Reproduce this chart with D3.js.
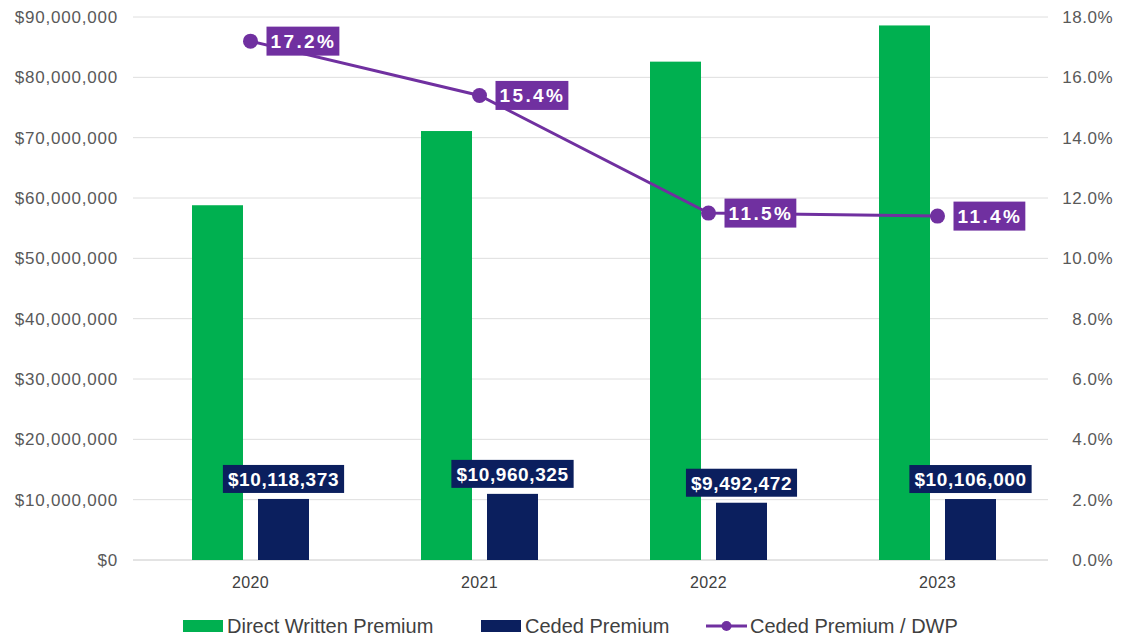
<!DOCTYPE html>
<html>
<head>
<meta charset="utf-8">
<script src="https://cdn.jsdelivr.net/npm/d3@7"></script>
<style>
  html, body { margin: 0; padding: 0; background: #fff; }
  svg { display: block; font-family: "Liberation Sans", Arial, sans-serif; }
</style>
</head>
<body>
<svg id="chart" width="1131" height="640"></svg>
<script>
// Premium figures by year
const years = ["2020", "2021", "2022", "2023"];
const directWritten = [58800000, 71100000, 82600000, 88600000];
const ceded = [10118373, 10960325, 9492472, 10106000];
const cededRatio = [17.2, 15.4, 11.5, 11.4];

const leftTicks = [0, 10000000, 20000000, 30000000, 40000000, 50000000, 60000000, 70000000, 80000000, 90000000];
const rightTicks = [0, 2, 4, 6, 8, 10, 12, 14, 16, 18];

const seriesNames = ["Direct Written Premium", "Ceded Premium", "Ceded Premium / DWP"];
const GREEN = "#00b050", NAVY = "#0b1f5e", PURPLE = "#7030a0";

const svg = d3.select("#chart");
const plot = { left: 136, right: 1052, top: 17, bottom: 560, gridL: 133, gridR: 1048 };

const x = d3.scaleBand().domain(years).range([plot.left, plot.right]).padding(0);
const yL = d3.scaleLinear().domain([0, 90000000]).range([plot.bottom, plot.top]);
const yR = d3.scaleLinear().domain([0, 18]).range([plot.bottom, plot.top]);

const money = d3.format("$,.0f");
const pct = d => d.toFixed(1) + "%";

// gridlines
svg.append("g").selectAll("line").data(leftTicks).join("line")
  .attr("x1", plot.gridL).attr("x2", plot.gridR)
  .attr("y1", d => yL(d)).attr("y2", d => yL(d))
  .attr("stroke", d => d === 0 ? "#c8c8c8" : "#dedede").attr("stroke-width", 1);

// left axis
const gL = svg.append("g").attr("transform", `translate(118,0)`)
  .call(d3.axisLeft(yL).tickValues(leftTicks).tickFormat(money).tickSize(0).tickPadding(0));
gL.select(".domain").remove();
gL.selectAll("text").attr("font-size", 17).attr("fill", "#595959").attr("letter-spacing", 0.8)
  .attr("font-family", "'Liberation Sans', Arial, sans-serif");

// right axis
const gR = svg.append("g").attr("transform", `translate(1113,0)`)
  .call(d3.axisLeft(yR).tickValues(rightTicks).tickFormat(d => d.toFixed(1) + "%").tickSize(0).tickPadding(0));
gR.select(".domain").remove();
gR.selectAll("text").attr("font-size", 17).attr("fill", "#595959").attr("letter-spacing", 0.5)
  .attr("font-family", "'Liberation Sans', Arial, sans-serif");

// category axis
const gX = svg.append("g").attr("transform", `translate(0,${plot.bottom})`)
  .call(d3.axisBottom(x).tickSize(0).tickPadding(17));
gX.select(".domain").remove();
gX.selectAll("text").attr("font-size", 16).attr("fill", "#404040").attr("letter-spacing", 0.4)
  .attr("font-family", "'Liberation Sans', Arial, sans-serif");

// bars
const barW = 51, gap = 15;
const cx = d => x(d) + x.bandwidth() / 2;

svg.append("g").selectAll("rect").data(years).join("rect")
  .attr("x", (d) => cx(d) - gap / 2 - barW)
  .attr("width", barW)
  .attr("y", (d, i) => yL(directWritten[i]))
  .attr("height", (d, i) => yL(0) - yL(directWritten[i]))
  .attr("fill", GREEN);

svg.append("g").selectAll("rect").data(years).join("rect")
  .attr("x", (d) => cx(d) + gap / 2)
  .attr("width", barW)
  .attr("y", (d, i) => yL(ceded[i]))
  .attr("height", (d, i) => yL(0) - yL(ceded[i]))
  .attr("fill", NAVY);

// ceded premium labels
const cededLab = svg.append("g").selectAll("g").data(years).join("g")
  .attr("transform", (d, i) => `translate(${cx(d) + gap / 2 + barW / 2},${yL(ceded[i]) - 20})`);
cededLab.append("rect").attr("fill", NAVY);
cededLab.append("text")
  .attr("text-anchor", "middle").attr("dy", "0.36em")
  .attr("font-size", 19).attr("font-weight", "bold").attr("fill", "#fff")
  .attr("letter-spacing", 0.6)
  .text((d, i) => money(ceded[i]));
cededLab.each(function () {
  const g = d3.select(this);
  const w = g.select("text").node().getComputedTextLength();
  g.select("rect").attr("x", -w / 2 - 5).attr("width", w + 10).attr("y", -14).attr("height", 28);
});

// ratio line
const line = d3.line().x(d => cx(d.year)).y(d => yR(d.v));
const pts = years.map((y, i) => ({ year: y, v: cededRatio[i] }));
svg.append("path").datum(pts).attr("d", line)
  .attr("fill", "none").attr("stroke", PURPLE).attr("stroke-width", 3);
svg.append("g").selectAll("circle").data(pts).join("circle")
  .attr("cx", d => cx(d.year)).attr("cy", d => yR(d.v)).attr("r", 7.5).attr("fill", PURPLE);

const pctLab = svg.append("g").selectAll("g").data(pts).join("g")
  .attr("transform", d => `translate(${cx(d.year) + 16},${yR(d.v)})`);
pctLab.append("rect").attr("fill", PURPLE);
pctLab.append("text")
  .attr("dy", "0.36em").attr("x", 4)
  .attr("font-size", 19).attr("font-weight", "bold").attr("fill", "#fff")
  .attr("letter-spacing", 2.4)
  .text(d => pct(d.v));
pctLab.each(function () {
  const g = d3.select(this);
  const w = g.select("text").node().getComputedTextLength();
  g.select("rect").attr("x", 0).attr("width", w + 7).attr("y", -14.5).attr("height", 29);
});

// legend
const legend = svg.append("g").attr("transform", "translate(0,626)");
const legX = [183, 481, 706];
seriesNames.forEach((name, i) => {
  const g = legend.append("g").attr("transform", `translate(${legX[i]},0)`);
  if (i < 2) {
    g.append("rect").attr("x", 0).attr("y", -6).attr("width", 40).attr("height", 12)
      .attr("fill", i === 0 ? GREEN : NAVY);
  } else {
    g.append("line").attr("x1", 0).attr("x2", 41).attr("y1", 0).attr("y2", 0)
      .attr("stroke", PURPLE).attr("stroke-width", 3);
    g.append("circle").attr("cx", 20.5).attr("cy", 0).attr("r", 5).attr("fill", PURPLE);
  }
  g.append("text").attr("x", 44).attr("dy", "0.36em")
    .attr("font-size", 20).attr("fill", "#404040")
    .text(name);
});
</script>
</body>
</html>
